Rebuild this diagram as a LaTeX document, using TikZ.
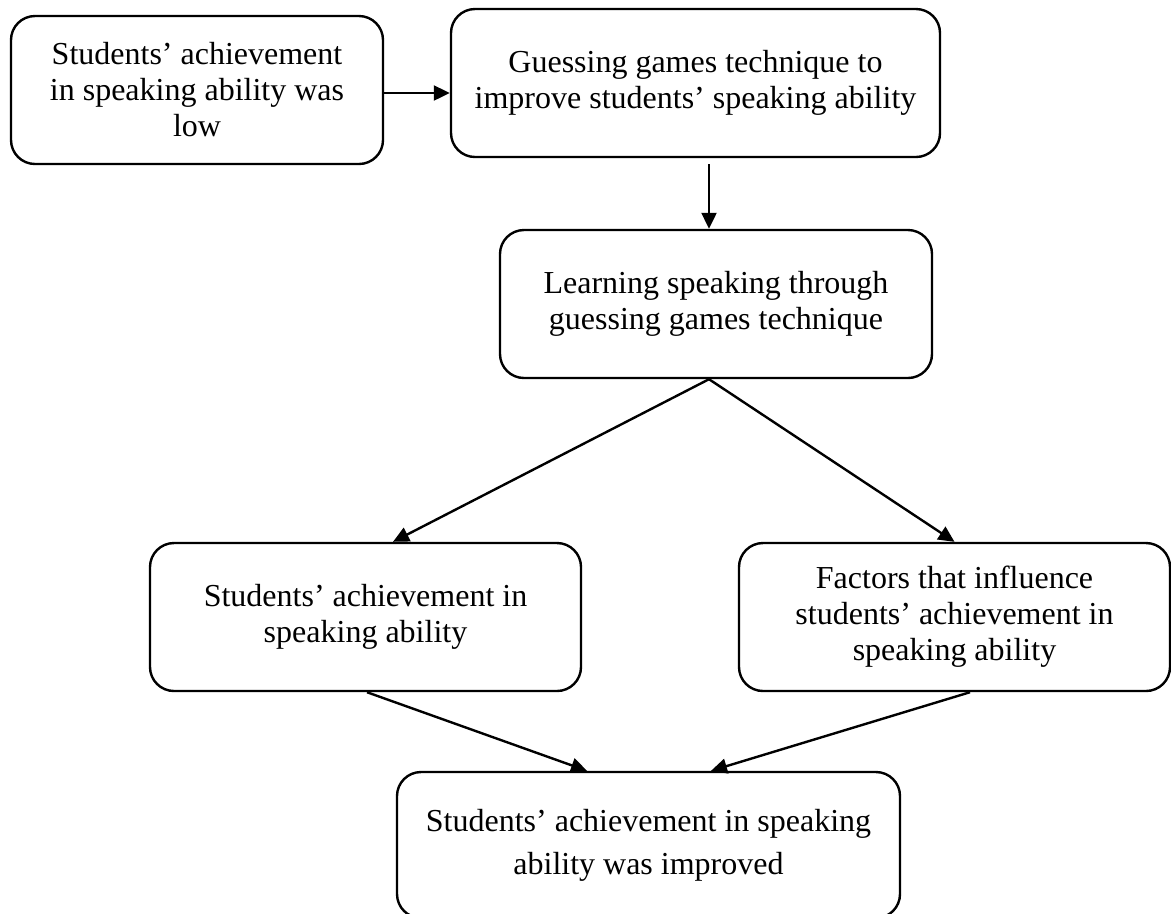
\documentclass[tikz,border=0pt]{standalone}
\usepackage{fontspec}
\setmainfont{Liberation Serif}
\usetikzlibrary{arrows.meta}

\begin{document}
\begin{tikzpicture}[x=0.375pt, y=-0.375pt,
	box/.style={draw, line width=0.9pt, rounded corners=9pt, align=center, inner sep=0pt,
		font=\fontsize{12}{13.5}\selectfont},
	arr/.style={line width=0.9pt, -{Triangle[length=6pt, width=5.6pt]}}]
	\def \px{ 0.375pt };
	\useasboundingbox (0,0) rectangle (1171,913);
	\node[box, minimum width=372*\px, minimum height=148*\px] (low) at (197,90) {Students’ achievement\\in speaking ability was\\low};
	\node[box, minimum width=489*\px, minimum height=148*\px] (tech) at (695.5,83) {Guessing games technique to\\improve students’ speaking ability};
	\node[box, minimum width=432*\px, minimum height=148*\px] (learn) at (716,304) {Learning speaking through\\guessing games technique};
	\node[box, minimum width=431*\px, minimum height=148*\px] (achv) at (365.5,617) {Students’ achievement in\\speaking ability};
	\node[box, minimum width=431*\px, minimum height=148*\px] (fact) at (954.5,617) {Factors that influence\\students’ achievement in\\speaking ability};
	\node[box, minimum width=503*\px, minimum height=146*\px, font=\fontsize{12}{16}\selectfont] (impr) at (648.5,845) {Students’ achievement in speaking\\ability was improved};
	\coordinate (right) at ([yshift=-3*\px]low.east);
	\coordinate (down) at ([xshift=13.5*\px, yshift=-6*\px]tech.south);
	\coordinate (split) at ([xshift=-7*\px]learn.south);
	\draw[arr] (right) -- (right -| tech.west);
	\draw[arr] (down) -- (down |- learn.north);
	\draw[arr] (split) -- ([xshift=27.5*\px]achv.north);
	\draw[arr] (split) -- (fact.north);
	\draw[arr] ([xshift=1.5*\px]achv.south) -- ([xshift=-61.5*\px]impr.north);
	\draw[arr] ([xshift=15.5*\px]fact.south) -- ([xshift=62.5*\px]impr.north);
\end{tikzpicture}
\end{document}
